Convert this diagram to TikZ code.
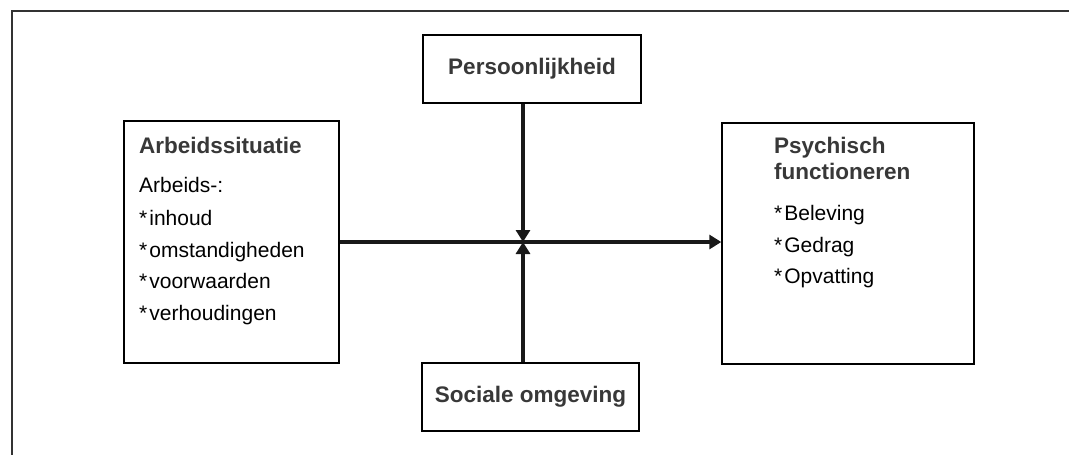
\documentclass[tikz,border=0pt]{standalone}
\usepackage{fontspec}
\setmainfont{Liberation Sans}
\usetikzlibrary{arrows.meta}
\tikzset{
  box/.style={draw=black, line width=1.4pt, inner sep=0pt, fill=white},
  ttl/.style={font=\fontsize{22.5}{26}\selectfont\bfseries, text=black!78, inner sep=0pt, anchor=base west},
  itm/.style={font=\fontsize{21}{25}\selectfont, text=black, inner sep=0pt, anchor=base west},
  conn/.style={line width=3.4pt, draw=black!90, -{Triangle[length=12pt,width=14pt]}},
  frame/.style={line width=1.5pt, draw=black!80}
}
\newcommand{\mystar}{*\kern2pt}
\begin{document}
\begin{tikzpicture}[x=1pt,y=-1pt]
\useasboundingbox (0,0) rectangle (1069,455);
% outer frame (cut off at right and bottom)
\coordinate (fa) at (12,455);
\coordinate (fb) at (12,11);
\coordinate (fc) at (1069,11);
\draw[frame] (fa) -- (fb) -- (fc);
% boxes
\node[box, minimum width=215pt, minimum height=242pt] (arb) at (231.5,242) {};
\node[box, minimum width=252pt, minimum height=241pt] (psy) at (848,243.5) {};
\node[box, minimum width=218pt, minimum height=68pt, font=\fontsize{22.5}{26}\selectfont\bfseries, text=black!78] (per) at (532,69) {Persoonlijkheid};
\node[box, minimum width=217pt, minimum height=68pt, font=\fontsize{22.5}{26}\selectfont\bfseries, text=black!78] (soc) at (530.5,397) {Sociale omgeving};
% left box texts
\node[ttl] (a0) at (139,153) {Arbeidssituatie};
\node[itm] (a1) at (139,192) {Arbeids-:};
\node[itm] (a2) at (139,225) {\mystar inhoud};
\node[itm] (a3) at (139,257) {\mystar omstandigheden};
\node[itm] (a4) at (139,288) {\mystar voorwaarden};
\node[itm] (a5) at (139,320) {\mystar verhoudingen};
% right box texts
\node[ttl] (p0) at (774,153) {Psychisch};
\node[ttl] (p1) at (774,179) {functioneren};
\node[itm] (p2) at (774,220) {\mystar Beleving};
\node[itm] (p3) at (774,252) {\mystar Gedrag};
\node[itm] (p4) at (774,283) {\mystar Opvatting};
% connectors
\coordinate (c) at (523,242);
\draw[conn] (arb.east |- c) -- (psy.west |- c);
\draw[conn] (per.south -| c) -- (c);
\draw[conn] (soc.north -| c) -- (c);
\end{tikzpicture}
\end{document}
